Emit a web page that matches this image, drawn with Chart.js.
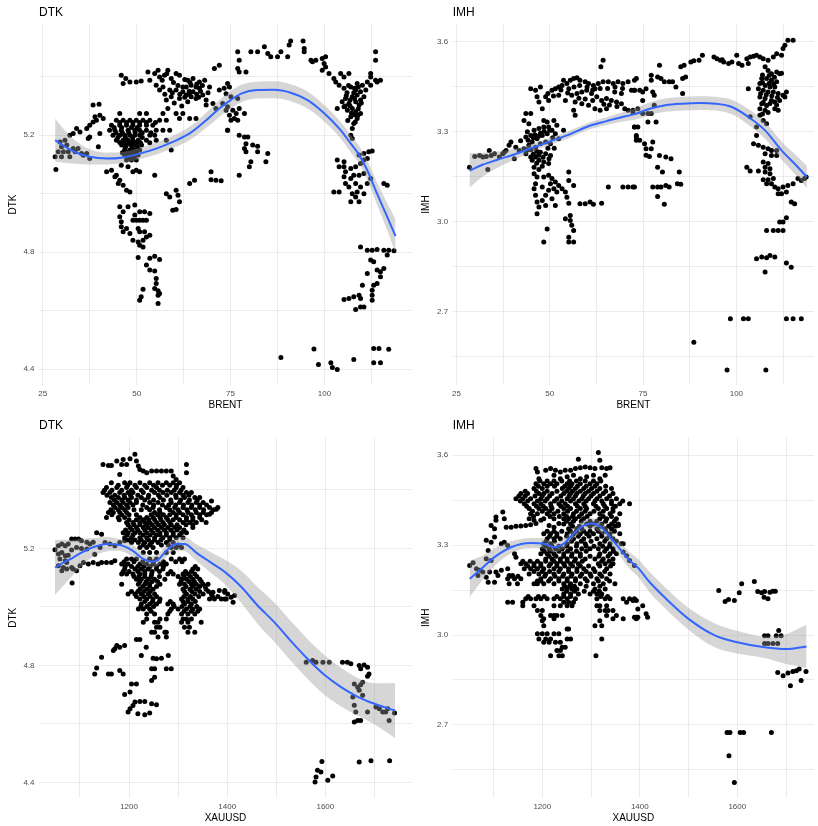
<!DOCTYPE html>
<html>
<head>
<meta charset="utf-8">
<script src="https://cdn.jsdelivr.net/npm/chart.js@4.4.1/dist/chart.umd.min.js"></script>
<style>
html, body { margin: 0; padding: 0; background: #ffffff; }
#wrap { position: relative; width: 818px; height: 826px; overflow: hidden; }
canvas { position: absolute; }
</style>
</head>
<body>
<div id="wrap">
<canvas id="p1" width="416" height="413" style="left:0px;top:0px"></canvas>
<canvas id="p2" width="402" height="413" style="left:416px;top:0px"></canvas>
<canvas id="p3" width="416" height="413" style="left:0px;top:413px"></canvas>
<canvas id="p4" width="402" height="413" style="left:416px;top:413px"></canvas>
</div>
<script>
// ---- tick values and labels ----
const brentMajor = [25, 50, 75, 100];
const brentLabels = ['25', '50', '75', '100'];
const brentMinor = [37.5, 62.5, 87.5, 112.5];
const xauMajor = [1200, 1400, 1600];
const xauLabels = ['1200', '1400', '1600'];
const xauMinor = [1100, 1300, 1500, 1700];
const dtkMajor = [4.4, 4.8, 5.2];
const dtkLabels = ['4.4', '4.8', '5.2'];
const dtkMinor = [4.6, 5.0, 5.4];
const imhMajor = [2.7, 3.0, 3.3, 3.6];
const imhLabels = ['2.7', '3.0', '3.3', '3.6'];
const imhMinor = [2.55, 2.85, 3.15, 3.45];

// ---- observations: DTK against BRENT ----
const dtkBrent = [
[28.3,5.126],[28.5,5.083],[29.1,5.143],[30.0,5.160],[30.5,5.143],[31.4,5.166],[31.8,5.143],[32.2,5.200],[33.1,5.206],[33.6,5.143],[34.0,5.223],[34.4,5.154],[34.9,5.211],[35.3,5.137],[35.8,5.131],[36.7,5.137],[37.5,5.120],[30.0,5.126],[32.2,5.126],[33.1,5.154],[29.6,5.177],[30.9,5.183],[37.5,5.194],
[38.4,5.303],[40.0,5.306],[38.9,5.263],[40.2,5.268],[41.1,5.257],[37.5,5.234],[38.4,5.245],[39.3,5.251],[36.7,5.223],[40.2,5.206],[39.8,5.160],[37.1,5.189],
[44.6,5.251],[46.4,5.251],[48.2,5.251],[49.9,5.251],[51.7,5.251],[53.5,5.251],[56.1,5.251],[57.9,5.251],
[43.3,5.234],[45.5,5.234],[47.3,5.234],[49.0,5.234],[50.8,5.234],[52.6,5.234],[54.3,5.234],
[42.8,5.217],[44.2,5.217],[45.9,5.217],[47.7,5.217],[49.5,5.217],[50.8,5.217],[52.6,5.217],[55.2,5.217],[57.0,5.217],[58.8,5.217],
[43.7,5.200],[45.5,5.200],[46.8,5.200],[48.2,5.200],[49.5,5.200],[50.8,5.200],[53.5,5.200],[54.8,5.200],
[44.6,5.183],[46.4,5.183],[47.7,5.183],[49.0,5.183],[50.4,5.183],[52.6,5.183],[55.2,5.183],[57.9,5.183],
[46.0,5.166],[47.3,5.166],[48.6,5.166],[49.9,5.166],[51.3,5.166],
[46.8,5.149],[48.2,5.149],[49.5,5.149],[50.8,5.149],[59.2,5.149],
[46.8,5.132],[47.7,5.132],[49.0,5.132],[50.4,5.132],
[47.3,5.115],[48.6,5.115],[49.9,5.115],
[45.5,5.274],[50.8,5.274],[52.6,5.274],[57.0,5.274],[60.5,5.274],[62.3,5.274],
[61.4,5.257],[64.1,5.257],[65.8,5.257],
[44.0,5.226],[46.0,5.226],[48.6,5.226],[50.2,5.226],[45.0,5.192],[47.0,5.192],[48.9,5.192],[51.5,5.192],[45.5,5.175],[48.0,5.175],[50.0,5.175],[47.0,5.158],[48.8,5.158],[50.2,5.158],[47.5,5.141],[49.0,5.141],
[45.5,5.243],[47.3,5.243],[49.0,5.243],[50.8,5.243],[52.6,5.243],[55.0,5.243],[44.5,5.208],[46.2,5.208],[47.9,5.208],[49.6,5.208],[51.5,5.208],[53.8,5.208],[46.7,5.174],[48.2,5.174],[49.3,5.174],[51.0,5.174],[53.5,5.174],[46.2,5.140],[48.4,5.140],[50.0,5.140],[48.0,5.124],[49.3,5.124],
[45.9,5.405],[47.1,5.394],[46.4,5.377],[48.2,5.382],[49.9,5.382],[51.2,5.385],[53.0,5.416],[53.5,5.388],[54.8,5.411],[55.7,5.422],[56.1,5.399],[57.4,5.405],[58.3,5.422],[59.2,5.394],[60.5,5.411],[61.4,5.405],[62.3,5.365],[63.6,5.388],[65.0,5.394],[66.7,5.382],[68.1,5.388],[69.4,5.365],[70.7,5.428],[72.0,5.439],[72.0,5.354],[73.3,5.360],
[55.2,5.371],[57.0,5.365],[58.8,5.354],[60.5,5.354],[62.3,5.348],[63.2,5.337],[64.5,5.331],[65.8,5.325],[67.6,5.337],[68.5,5.320],[57.9,5.320],[59.2,5.331],[61.4,5.325],[63.6,5.314],[65.0,5.348],[66.7,5.360],[58.3,5.291],[63.2,5.365],[64.5,5.371],[56.1,5.354],[65.8,5.365],[68.5,5.303],[70.3,5.308],[71.1,5.291],[72.9,5.308],[73.8,5.285],[74.2,5.217],[62.8,5.330],[64.0,5.350],[66.0,5.340],[67.0,5.350],
[56.8,5.388],[58.0,5.410],[59.8,5.380],[61.0,5.370],[62.8,5.390],[64.2,5.380],[66.0,5.375],[67.5,5.370],[57.5,5.340],[59.5,5.345],[61.5,5.340],[64.0,5.340],[66.5,5.330],[60.0,5.310],[62.0,5.300],[69.0,5.345],
[42.0,5.075],[43.3,5.080],[44.6,5.063],[45.5,5.046],[46.4,5.029],[47.3,5.012],[48.2,5.006],[49.0,5.075],[49.9,5.080],[50.8,5.075],[47.7,5.092],[45.9,5.097],[44.2,5.058],[45.1,5.035],[54.8,5.063],
[45.5,4.955],[46.4,4.938],[47.7,4.955],[49.5,4.961],[50.8,4.938],[52.1,4.938],[53.5,4.932],[45.5,4.921],[45.9,4.904],[45.9,4.887],[46.4,4.870],[48.2,4.864],[49.0,4.841],[50.4,4.835],[51.7,4.841],[52.6,4.852],[53.5,4.858],[52.1,4.870],[50.8,4.870],[49.9,4.909],[50.8,4.909],[51.7,4.909],[52.6,4.909],[49.0,4.909],[49.5,4.927],[50.8,4.824],[51.7,4.818],[47.3,4.881],[50.4,4.881],
[50.4,4.782],[53.5,4.779],[54.8,4.786],[56.1,4.775],[52.6,4.756],[53.5,4.739],[54.8,4.736],[55.2,4.710],[55.2,4.693],[54.8,4.676],[55.7,4.668],[56.1,4.659],[51.2,4.648],[50.8,4.636],[55.7,4.653],[55.7,4.625],[51.7,4.673],
[57.9,5.000],[58.8,4.989],[60.5,5.012],[61.0,4.995],[61.4,4.972],[60.5,4.946],[59.6,4.943],[64.1,5.035],[65.4,5.046],[69.8,5.075],[69.8,5.048],[71.1,5.046],[72.5,5.044],
[74.2,5.377],[74.7,5.365],[73.8,5.342],[75.1,5.331],[76.9,5.325],[74.2,5.297],[75.6,5.285],[76.5,5.274],[76.0,5.257],[76.9,5.251],[75.1,5.251],[77.3,5.291],[78.7,5.274],[74.2,5.217],[74.7,5.268],
[76.9,5.485],[77.3,5.456],[76.9,5.428],[77.3,5.416],[79.1,5.416],[80.4,5.485],[82.2,5.485],[84.0,5.502],[84.9,5.479],[85.7,5.468],[87.5,5.468],[88.4,5.485],[90.2,5.468],[90.6,5.508],[91.0,5.522],[94.3,5.522],[94.6,5.496],[94.6,5.485],[96.4,5.456],[96.8,5.451],[97.7,5.456],[99.4,5.462],[100.3,5.468],[99.9,5.445],[100.3,5.433],[99.4,5.422],[101.2,5.411],[102.5,5.394],[103.0,5.382],[104.3,5.411],[105.2,5.399],[106.5,5.411],[103.9,5.371],
[105.2,5.360],[107.0,5.365],[108.3,5.354],[109.6,5.348],[110.5,5.331],[108.7,5.337],[107.4,5.331],[105.6,5.325],[104.7,5.314],[106.5,5.308],[108.3,5.314],[109.2,5.303],[107.4,5.291],[106.1,5.285],[108.3,5.280],[109.6,5.274],[107.0,5.263],[108.7,5.257],[107.8,5.240],[107.4,5.223],[103.4,5.291],[105.2,5.297],[109.6,5.320],[111.0,5.354],[112.3,5.371],[113.6,5.388],[112.3,5.411],[112.3,5.399],[113.6,5.485],[113.6,5.456],[114.0,5.382],[114.9,5.388],[111.4,5.382],[110.1,5.371],[108.7,5.377],[106.0,5.345],[107.8,5.345],[109.0,5.290],[106.8,5.300],[108.0,5.270],[105.8,5.335],
[106.4,5.370],[108.0,5.360],[109.0,5.365],[106.8,5.320],[108.0,5.325],[109.8,5.310],[105.5,5.300],[107.2,5.275],[108.9,5.268],[106.2,5.250],[108.2,5.245],
[107.0,5.200],[107.4,5.189],[103.4,5.115],[105.2,5.109],[103.9,5.092],[105.6,5.075],[107.0,5.086],[108.3,5.092],[109.2,5.132],[110.5,5.137],[111.8,5.143],[112.7,5.146],[110.5,5.115],[111.4,5.120],[109.6,5.103],[107.8,5.063],[109.2,5.063],[110.5,5.069],[107.0,5.052],[108.3,5.035],[109.6,5.023],[108.7,5.006],[107.4,5.000],[110.5,5.000],[108.3,4.989],[107.0,4.972],[109.2,4.972],[102.5,5.006],[103.9,5.006],[105.2,5.058],[106.5,5.023],[111.4,5.035],[112.3,5.052],[115.8,5.035],[116.7,5.029],[105.2,5.092],[105.6,5.035],
[109.6,4.818],[111.4,4.807],[112.7,4.807],[114.0,4.809],[115.8,4.807],[117.1,4.807],[118.5,4.805],[116.7,4.790],[112.3,4.773],[113.1,4.767],[114.0,4.739],[114.9,4.733],[115.8,4.744],[111.4,4.727],[114.9,4.716],[113.1,4.687],[114.0,4.693],[110.1,4.687],[112.7,4.670],[112.7,4.653],[112.7,4.636],[105.2,4.638],[106.5,4.642],[107.8,4.648],[109.2,4.653],[109.6,4.642],[108.3,4.604],[109.6,4.613],[110.5,4.613],
[88.4,4.440],[97.2,4.469],[98.4,4.416],[101.7,4.422],[102.1,4.406],[103.4,4.399],[107.8,4.433],[113.1,4.471],[114.5,4.471],[117.1,4.468],[113.1,4.422],[114.9,4.422],
[77.3,5.200],[78.7,5.194],[79.6,5.194],[79.1,5.171],[80.9,5.166],[82.2,5.162],[82.2,5.143],[78.7,5.154],[79.1,5.143],[84.9,5.137],[84.4,5.109],[80.4,5.109],[80.0,5.092],[77.3,5.063]
];

// ---- observations: IMH against BRENT ----
const imhBrent = [
[28.5,3.182],[29.9,3.218],[31.2,3.221],[32.1,3.216],[33.0,3.218],[33.8,3.238],[34.3,3.221],[33.4,3.174],[35.2,3.227],[36.5,3.216],[37.4,3.227],[37.8,3.232],[39.1,3.255],[39.6,3.266],[38.3,3.238],[40.5,3.210],[41.8,3.238],[42.2,3.270],[43.1,3.244],[40.9,3.249],
[43.6,3.283],[44.9,3.288],[45.8,3.305],[47.1,3.311],[48.4,3.316],[49.7,3.316],[50.6,3.305],[51.5,3.294],[49.3,3.294],[48.0,3.288],[46.6,3.277],[45.3,3.266],[44.4,3.255],[46.2,3.249],[47.5,3.260],[48.9,3.266],[50.2,3.260],[43.6,3.227],[44.9,3.216],[46.2,3.216],[47.1,3.205],[48.4,3.199],[49.7,3.194],[45.3,3.205],[47.5,3.232],[48.9,3.227],[50.2,3.221],[45.8,3.182],[47.1,3.174],[48.4,3.338],[49.3,3.333],[44.4,3.327],[51.1,3.338],[51.9,3.322],[52.4,3.277],[53.7,3.305],[43.6,3.361],[43.1,3.338],[44.9,3.361],[46.0,3.290],[47.5,3.295],[45.0,3.240],[46.5,3.235],[49.5,3.245],[44.0,3.300],
[44.2,3.272],[45.6,3.280],[47.0,3.285],[48.5,3.302],[50.0,3.305],[44.0,3.240],[45.6,3.225],[47.0,3.222],[48.2,3.215],[49.8,3.210],[46.5,3.195],[48.0,3.185],[50.8,3.280],[51.2,3.245],
[44.9,3.444],[46.2,3.439],[46.6,3.417],[47.1,3.400],[48.0,3.377],[47.5,3.450],[48.9,3.417],[49.7,3.405],[50.6,3.439],[51.5,3.444],[52.4,3.450],[53.3,3.455],[53.7,3.472],[54.6,3.461],[55.5,3.472],[56.4,3.478],[57.3,3.481],[58.1,3.472],[59.5,3.467],[60.4,3.461],[61.7,3.455],[63.0,3.461],[64.3,3.467],[65.7,3.467],[67.0,3.461],[68.3,3.467],[69.6,3.461],[71.0,3.467],[71.9,3.439],[72.7,3.439],[72.7,3.472],[52.4,3.422],[54.2,3.405],[55.9,3.422],[57.3,3.428],[58.6,3.433],[59.9,3.439],[61.2,3.428],[62.6,3.417],[63.9,3.405],[65.2,3.411],[66.5,3.405],[67.9,3.400],[69.2,3.394],[70.1,3.377],[71.0,3.372],[72.3,3.366],[56.8,3.400],[58.6,3.394],[60.4,3.389],[62.1,3.377],[63.5,3.372],[65.2,3.377],[56.8,3.355],[56.4,3.372],[55.1,3.444],[62.1,3.444],[67.4,3.433],[69.2,3.428],[64.3,3.539],[63.7,3.517],
[49.5,3.428],[51.0,3.420],[53.0,3.440],[54.8,3.430],[56.5,3.450],[58.0,3.455],[60.0,3.450],[61.5,3.440],[63.5,3.445],[65.5,3.445],[67.5,3.450],[69.5,3.445],[57.8,3.412],[59.5,3.410],[61.5,3.405],[64.5,3.392],[66.0,3.390],[68.0,3.385],
[45.8,3.160],[46.6,3.149],[46.2,3.127],[45.8,3.110],[46.2,3.088],[46.6,3.066],[47.1,3.049],[46.6,3.027],[48.0,3.116],[48.4,3.149],[49.7,3.155],[50.6,3.144],[51.5,3.133],[52.4,3.121],[50.2,3.127],[49.7,3.105],[51.1,3.110],[51.9,3.099],[53.3,3.110],[54.2,3.099],[55.1,3.138],[55.1,3.166],[56.4,3.121],[48.9,3.088],[50.6,3.077],[51.5,3.054],[48.0,3.071],[48.9,3.054],[54.6,3.082],[55.1,3.062],[58.1,3.060],[59.5,3.060],[60.8,3.066],[61.7,3.058],[63.9,3.062],[54.2,3.010],[55.5,3.004],[55.9,2.988],[56.4,2.971],[55.1,2.948],[56.4,2.932],[55.1,2.932],[49.3,2.976],[48.4,2.932],[55.5,3.021],
[65.7,3.116],[69.6,3.116],[71.0,3.116],[72.3,3.116],[72.7,3.316],[73.2,3.288],[73.2,3.272],
[72.7,3.439],[74.1,3.439],[74.9,3.433],[75.8,3.444],[77.2,3.489],[77.2,3.472],[77.6,3.433],[78.0,3.422],[78.9,3.483],[79.8,3.478],[80.7,3.467],[82.0,3.467],[82.9,3.467],[83.8,3.450],[85.6,3.428],[85.6,3.478],[86.4,3.483],[85.1,3.517],[86.0,3.522],[87.8,3.533],[88.6,3.537],[90.0,3.539],[90.9,3.556],[79.4,3.522],[73.2,3.478],[74.9,3.405],[72.3,3.372],[73.6,3.377],[74.9,3.361],[76.3,3.361],[77.2,3.361],[78.0,3.389],[76.3,3.333],[78.5,3.333],[72.7,3.316],[73.6,3.316],[73.2,3.283],[74.1,3.272],[75.4,3.260],[75.8,3.244],[77.2,3.244],[75.8,3.222],[76.7,3.218],[77.6,3.266],[79.4,3.221],[81.1,3.216],[82.5,3.210],[78.9,3.182],[80.2,3.166],[84.7,3.166],[84.2,3.127],[85.1,3.125],[77.6,3.116],[78.9,3.116],[79.8,3.116],[81.1,3.121],[82.0,3.116],[78.9,3.084],[80.7,3.058],[72.7,3.116],
[94.0,3.550],[94.8,3.544],[95.7,3.539],[96.6,3.533],[97.9,3.528],[98.8,3.533],[100.1,3.556],[100.6,3.528],[101.5,3.522],[102.8,3.544],[103.7,3.550],[104.6,3.552],[105.4,3.556],[106.3,3.550],[107.2,3.544],[108.5,3.539],[109.9,3.550],[110.8,3.561],[112.1,3.556],[112.5,3.578],[113.0,3.589],[113.8,3.606],[115.2,3.606],[103.2,3.528],[96.2,3.541],
[107.7,3.517],[108.5,3.505],[109.4,3.494],[110.8,3.500],[111.6,3.494],[106.8,3.478],[108.1,3.478],[109.4,3.472],[110.8,3.467],[106.3,3.461],[107.7,3.455],[109.0,3.450],[110.3,3.450],[105.9,3.444],[107.2,3.439],[108.5,3.433],[109.9,3.433],[111.2,3.428],[112.5,3.422],[103.2,3.444],[106.3,3.416],[107.7,3.411],[109.4,3.405],[111.6,3.405],[113.0,3.416],[113.4,3.433],[106.8,3.394],[108.1,3.388],[106.3,3.377],[107.7,3.372],[110.3,3.377],[111.2,3.372],[106.3,3.355],[107.2,3.338],[108.1,3.327],[112.1,3.496],[110.3,3.400],[103.7,3.350],
[107.0,3.490],[108.8,3.488],[110.2,3.482],[107.0,3.465],[108.8,3.462],[110.0,3.460],[106.5,3.428],[108.0,3.424],[109.5,3.420],[111.0,3.415],[107.2,3.398],[109.0,3.395],[110.8,3.390],[107.0,3.360],[108.5,3.365],
[105.4,3.316],[105.4,3.288],[104.6,3.260],[105.9,3.255],[107.2,3.249],[108.5,3.244],[109.4,3.238],[110.8,3.238],[107.7,3.227],[109.4,3.221],[110.8,3.221],[107.2,3.199],[108.5,3.194],[107.7,3.182],[109.0,3.177],[102.8,3.182],[103.7,3.169],[105.9,3.169],[107.7,3.166],[109.0,3.160],[107.2,3.140],[108.5,3.140],[109.9,3.144],[108.1,3.127],[109.4,3.127],[110.3,3.116],[111.2,3.110],[112.5,3.116],[113.8,3.121],[115.2,3.127],[116.5,3.144],[117.4,3.138],[118.3,3.144],[118.7,3.149],[111.2,3.093],[112.1,3.093],[113.4,3.099],[114.7,3.066],[115.6,3.060],
[113.4,3.013],[111.6,2.999],[112.5,2.999],[108.1,2.971],[109.9,2.971],[111.2,2.971],[112.5,2.971],[105.4,2.876],[106.8,2.882],[108.1,2.880],[109.0,2.887],[110.3,2.882],[107.7,2.832],[113.4,2.862],[114.7,2.848],
[98.4,2.676],[101.9,2.676],[103.2,2.676],[113.4,2.676],[115.2,2.676],[117.4,2.676],[88.6,2.598],[97.5,2.505],[107.9,2.505]
];

// ---- observations: DTK against XAUUSD ----
const dtkXau = [
[1049,5.196],[1056,5.209],[1063,5.215],[1070,5.209],[1076,5.215],[1083,5.232],[1090,5.232],[1097,5.232],[1103,5.226],[1114,5.221],[1120,5.215],[1127,5.221],[1056,5.181],[1063,5.186],[1070,5.175],[1076,5.177],[1059,5.164],[1070,5.158],[1056,5.141],[1066,5.135],[1073,5.130],[1083,5.135],[1086,5.130],[1093,5.124],[1073,5.152],[1083,5.195],[1093,5.203],[1103,5.200],[1114,5.198],[1084,5.082],[1063,5.124],[1130,5.180],[1107,5.152],[1117,5.147],[1127,5.152],[1137,5.147],[1144,5.152],[1154,5.152],[1164,5.152],[1171,5.158],[1134,5.254],[1144,5.249],[1141,5.203],[1151,5.220],[1161,5.215],[1171,5.209],[1181,5.220],[1191,5.226],[1100,5.141],
[1147,5.487],[1158,5.484],[1164,5.484],[1175,5.499],[1185,5.487],[1188,5.504],[1195,5.487],[1202,5.507],[1212,5.522],[1215,5.499],[1219,5.482],[1222,5.470],[1229,5.465],[1236,5.459],[1246,5.465],[1256,5.465],[1266,5.465],[1276,5.465],[1286,5.465],[1317,5.487],[1317,5.459],[1181,5.453],[1290,5.448],[1296,5.436],
[1164,5.425],[1191,5.425],[1202,5.425],[1222,5.425],[1242,5.425],[1259,5.425],[1276,5.425],[1290,5.425],[1303,5.425],
[1178,5.416],[1197,5.416],[1212,5.416],[1232,5.416],[1250,5.416],[1268,5.416],[1283,5.416],[1297,5.416],
[1154,5.408],[1175,5.408],[1195,5.408],[1215,5.408],[1236,5.408],[1256,5.408],[1296,5.408],[1310,5.408],
[1150,5.399],[1165,5.399],[1185,5.399],[1205,5.399],[1225,5.399],[1246,5.399],[1262,5.399],[1278,5.399],[1292,5.399],[1306,5.399],
[1147,5.391],[1161,5.391],[1181,5.391],[1198,5.391],[1208,5.391],[1229,5.391],[1252,5.391],[1269,5.391],[1286,5.391],[1303,5.391],[1317,5.391],[1327,5.391],
[1155,5.382],[1171,5.382],[1190,5.382],[1203,5.382],[1218,5.382],[1240,5.382],[1260,5.382],[1277,5.382],[1295,5.382],[1310,5.382],[1322,5.382],
[1164,5.374],[1178,5.374],[1191,5.374],[1205,5.374],[1225,5.374],[1239,5.374],[1263,5.374],[1296,5.374],[1313,5.374],[1334,5.374],[1344,5.374],
[1170,5.366],[1185,5.366],[1198,5.366],[1215,5.366],[1232,5.366],[1250,5.366],[1270,5.366],[1285,5.366],[1305,5.366],[1323,5.366],[1339,5.366],
[1161,5.357],[1175,5.357],[1188,5.357],[1202,5.357],[1215,5.357],[1242,5.357],[1259,5.357],[1286,5.357],[1303,5.357],[1320,5.357],[1337,5.357],[1351,5.357],
[1168,5.349],[1181,5.349],[1195,5.349],[1208,5.349],[1228,5.349],[1250,5.349],[1268,5.349],[1281,5.349],[1295,5.349],[1311,5.349],[1328,5.349],[1344,5.349],[1358,5.349],
[1171,5.340],[1185,5.340],[1198,5.340],[1236,5.340],[1249,5.340],[1276,5.340],[1293,5.340],[1310,5.340],[1327,5.340],[1344,5.340],[1364,5.340],[1381,5.340],
[1163,5.332],[1178,5.332],[1191,5.332],[1210,5.332],[1225,5.332],[1242,5.332],[1262,5.332],[1283,5.332],[1300,5.332],[1318,5.332],[1335,5.332],[1352,5.332],[1372,5.332],
[1158,5.323],[1168,5.323],[1181,5.323],[1195,5.323],[1252,5.323],[1263,5.323],[1290,5.323],[1303,5.323],[1320,5.323],[1337,5.323],[1351,5.323],[1368,5.323],
[1165,5.315],[1185,5.315],[1200,5.315],[1215,5.315],[1245,5.315],[1258,5.315],[1270,5.315],[1283,5.315],[1296,5.315],[1310,5.315],[1327,5.315],[1344,5.315],[1358,5.315],
[1154,5.306],[1178,5.306],[1191,5.306],[1222,5.306],[1236,5.306],[1249,5.306],[1263,5.306],[1276,5.306],[1296,5.306],[1317,5.306],[1330,5.306],[1344,5.306],
[1180,5.298],[1200,5.298],[1215,5.298],[1229,5.298],[1240,5.298],[1252,5.298],[1265,5.298],[1279,5.298],[1290,5.298],[1303,5.298],[1317,5.298],[1330,5.298],[1348,5.298],
[1195,5.289],[1208,5.289],[1222,5.289],[1232,5.289],[1242,5.289],[1256,5.289],[1269,5.289],[1283,5.289],[1310,5.289],[1324,5.289],[1337,5.289],[1357,5.289],
[1198,5.281],[1210,5.281],[1222,5.281],[1235,5.281],[1247,5.281],[1260,5.281],[1272,5.281],[1286,5.281],[1298,5.281],[1316,5.281],[1330,5.281],
[1202,5.272],[1215,5.272],[1229,5.272],[1239,5.272],[1252,5.272],[1266,5.272],[1279,5.272],[1293,5.272],[1303,5.272],[1330,5.272],
[1193,5.263],[1206,5.263],[1218,5.263],[1232,5.263],[1245,5.263],[1258,5.263],[1272,5.263],[1285,5.263],[1298,5.263],[1312,5.263],
[1188,5.254],[1198,5.254],[1212,5.254],[1222,5.254],[1236,5.254],[1249,5.254],[1263,5.254],[1276,5.254],[1290,5.254],[1307,5.254],[1317,5.254],
[1196,5.246],[1208,5.246],[1229,5.246],[1243,5.246],[1256,5.246],[1263,5.246],[1276,5.246],[1290,5.246],[1303,5.246],
[1191,5.237],[1205,5.237],[1222,5.237],[1236,5.237],[1252,5.237],[1269,5.237],[1283,5.237],[1296,5.237],[1310,5.237],
[1198,5.229],[1212,5.229],[1225,5.229],[1240,5.229],[1252,5.229],[1265,5.229],[1283,5.229],
[1205,5.220],[1219,5.220],[1232,5.220],[1246,5.220],[1259,5.220],[1276,5.220],[1290,5.220],
[1229,5.212],[1242,5.212],[1266,5.212],[1280,5.212],[1300,5.212],
[1222,5.203],[1236,5.203],[1249,5.203],[1286,5.203],[1296,5.203],[1307,5.203],
[1229,5.186],[1242,5.186],[1256,5.186],[1276,5.186],[1290,5.186],
[1368,5.362],[1378,5.334],[1364,5.317],
[1195,5.164],[1205,5.164],[1215,5.164],[1242,5.164],[1256,5.164],[1286,5.164],[1303,5.164],[1313,5.164],
[1190,5.155],[1210,5.155],[1228,5.155],[1250,5.155],[1270,5.155],[1295,5.155],[1308,5.155],
[1185,5.147],[1198,5.147],[1222,5.147],[1236,5.147],[1249,5.147],[1263,5.147],[1276,5.147],
[1192,5.138],[1205,5.138],[1218,5.138],[1230,5.138],[1243,5.138],[1256,5.138],[1270,5.138],[1335,5.138],
[1191,5.130],[1212,5.130],[1225,5.130],[1239,5.130],[1256,5.130],[1269,5.130],[1330,5.130],[1340,5.130],
[1188,5.121],[1200,5.121],[1218,5.121],[1232,5.121],[1247,5.121],[1262,5.121],[1285,5.121],[1315,5.121],[1327,5.121],
[1185,5.113],[1195,5.113],[1208,5.113],[1222,5.113],[1232,5.113],[1246,5.113],[1279,5.113],[1290,5.113],[1310,5.113],[1320,5.113],[1334,5.113],
[1210,5.104],[1220,5.104],[1232,5.104],[1245,5.104],[1262,5.104],[1300,5.104],[1312,5.104],[1325,5.104],[1338,5.104],
[1215,5.095],[1225,5.095],[1239,5.095],[1252,5.095],[1273,5.095],[1307,5.095],[1317,5.095],[1330,5.095],[1344,5.095],
[1222,5.087],[1235,5.087],[1247,5.087],[1258,5.087],[1306,5.087],[1322,5.087],[1333,5.087],[1347,5.087],
[1185,5.078],[1219,5.078],[1232,5.078],[1242,5.078],[1263,5.078],[1303,5.078],[1313,5.078],[1327,5.078],[1337,5.078],[1351,5.078],[1361,5.078],
[1228,5.070],[1242,5.070],[1256,5.070],[1316,5.070],[1330,5.070],[1344,5.070],[1355,5.070],
[1222,5.061],[1236,5.061],[1249,5.061],[1310,5.061],[1324,5.061],[1337,5.061],[1357,5.061],
[1205,5.053],[1218,5.053],[1230,5.053],[1243,5.053],[1313,5.053],[1328,5.053],[1344,5.053],[1362,5.053],
[1198,5.044],[1212,5.044],[1225,5.044],[1239,5.044],[1252,5.044],[1317,5.044],[1334,5.044],[1351,5.044],[1368,5.044],
[1215,5.036],[1230,5.036],[1243,5.036],[1256,5.036],[1312,5.036],[1325,5.036],[1342,5.036],[1370,5.036],[1381,5.036],
[1222,5.027],[1236,5.027],[1249,5.027],[1263,5.027],[1307,5.027],[1320,5.027],[1330,5.027],[1364,5.027],[1374,5.027],[1388,5.027],[1395,5.027],
[1232,5.019],[1248,5.019],[1262,5.019],[1284,5.019],[1310,5.019],[1320,5.019],[1335,5.019],
[1225,5.010],[1242,5.010],[1256,5.010],[1279,5.010],[1290,5.010],[1313,5.010],[1327,5.010],
[1224,5.002],[1236,5.002],[1250,5.002],[1292,5.002],[1308,5.002],[1324,5.002],[1338,5.002],
[1219,4.993],[1229,4.993],[1242,4.993],[1286,4.993],[1300,4.993],[1317,4.993],[1330,4.993],[1344,4.993],
[1245,4.985],[1283,4.985],[1312,4.985],[1327,4.985],[1340,4.985],
[1236,4.976],[1252,4.976],[1279,4.976],[1307,4.976],[1320,4.976],[1334,4.976],
[1236,4.959],[1263,4.959],[1276,4.959],[1310,4.959],[1317,4.959],[1327,4.959],
[1229,4.948],[1252,4.948],[1259,4.948],[1307,4.948],[1320,4.948],[1347,4.948],
[1256,4.931],[1263,4.931],[1313,4.931],[1323,4.931],
[1246,4.914],[1252,4.914],[1273,4.914],[1276,4.914],[1320,4.914],[1334,4.914],
[1259,4.897],[1276,4.897],[1215,4.889],[1222,4.889],
[1235,4.862],[1175,4.868],[1171,4.857],[1168,4.851],[1181,4.862],[1191,4.868],[1144,4.828],[1225,4.834],[1249,4.825],[1256,4.823],[1266,4.825],[1280,4.834],[1134,4.791],[1130,4.771],[1158,4.771],[1164,4.771],[1181,4.783],[1188,4.771],[1246,4.789],[1252,4.789],[1252,4.760],[1246,4.749],[1276,4.789],[1286,4.789],[1205,4.737],[1215,4.737],[1191,4.701],[1202,4.709],[1212,4.675],[1222,4.677],[1232,4.677],[1246,4.669],[1256,4.666],[1198,4.641],[1202,4.652],[1218,4.635],[1232,4.632],[1242,4.638],[1208,4.663],
[1371,5.050],[1384,5.056],[1395,5.050],[1395,5.056],[1401,5.044],[1408,5.033],[1415,5.039],[1412,5.016],[1398,5.027],
[1561,4.811],[1574,4.817],[1581,4.811],[1595,4.811],[1608,4.811],[1635,4.811],[1645,4.811],[1652,4.806],[1669,4.800],[1679,4.802],[1686,4.794],[1672,4.789],[1689,4.771],[1686,4.763],[1659,4.737],[1666,4.726],[1672,4.734],[1676,4.743],[1669,4.715],[1676,4.698],[1656,4.692],[1659,4.664],[1662,4.641],[1686,4.641],[1703,4.658],[1710,4.652],[1717,4.641],[1727,4.652],[1723,4.641],[1730,4.612],[1741,4.638],[1659,4.607],[1666,4.612],[1672,4.612],
[1593,4.472],[1584,4.442],[1591,4.436],[1581,4.419],[1579,4.402],[1605,4.408],[1615,4.422],[1669,4.470],[1693,4.474],[1731,4.474]
];

// ---- observations: IMH against XAUUSD ----
const imhXau = [
[1051,3.232],[1058,3.241],[1065,3.221],[1072,3.216],[1078,3.210],[1068,3.199],[1085,3.193],[1089,3.176],[1102,3.176],[1092,3.210],[1105,3.210],[1116,3.216],[1085,3.255],[1095,3.249],[1089,3.282],[1095,3.310],[1085,3.316],[1102,3.327],[1102,3.355],[1095,3.366],[1105,3.383],[1105,3.394],[1119,3.411],[1122,3.388],[1122,3.310],[1129,3.299],[1116,3.305],[1129,3.221],[1139,3.199],[1146,3.260],[1143,3.271],[1132,3.199],[1109,3.199],[1132,3.171],
[1126,3.360],[1136,3.360],[1146,3.363],[1156,3.364],[1166,3.366],[1176,3.368],[1187,3.372],[1197,3.383],[1203,3.388],[1214,3.366],[1224,3.360],[1234,3.372],[1183,3.383],
[1315,3.609],[1318,3.583],[1274,3.587],[1187,3.556],[1190,3.544],[1193,3.522],[1207,3.550],[1217,3.556],[1227,3.550],[1237,3.544],[1247,3.550],[1258,3.550],[1268,3.556],[1278,3.558],[1288,3.561],[1298,3.558],[1308,3.556],[1322,3.558],[1332,3.556],[1339,3.558],[1224,3.533],[1237,3.522],[1251,3.528],[1264,3.533],[1278,3.522],[1291,3.528],[1305,3.533],[1318,3.522],[1329,3.533],
[1195,3.514],[1210,3.514],[1224,3.514],[1240,3.514],[1256,3.514],[1270,3.514],[1288,3.514],[1305,3.514],[1320,3.514],
[1187,3.505],[1203,3.505],[1217,3.505],[1230,3.505],[1251,3.505],[1261,3.505],[1278,3.505],[1298,3.505],[1312,3.505],
[1192,3.497],[1210,3.497],[1225,3.497],[1246,3.497],[1258,3.497],[1272,3.497],[1290,3.497],[1308,3.497],[1330,3.497],
[1183,3.489],[1200,3.489],[1241,3.489],[1254,3.489],[1268,3.489],[1285,3.489],[1301,3.489],[1318,3.489],[1342,3.489],
[1165,3.480],[1188,3.480],[1210,3.480],[1230,3.480],[1250,3.480],[1262,3.480],[1278,3.480],[1295,3.480],[1312,3.480],[1330,3.480],
[1156,3.472],[1170,3.472],[1193,3.472],[1203,3.472],[1220,3.472],[1244,3.472],[1258,3.472],[1271,3.472],[1288,3.472],[1305,3.472],[1325,3.472],[1345,3.472],
[1152,3.464],[1165,3.464],[1185,3.464],[1200,3.464],[1215,3.464],[1238,3.464],[1255,3.464],[1268,3.464],[1284,3.464],[1300,3.464],[1318,3.464],[1338,3.464],
[1146,3.455],[1160,3.455],[1176,3.455],[1197,3.455],[1210,3.455],[1230,3.455],[1251,3.455],[1264,3.455],[1281,3.455],[1295,3.455],[1312,3.455],[1332,3.455],[1352,3.455],
[1155,3.447],[1170,3.447],[1190,3.447],[1206,3.447],[1225,3.447],[1240,3.447],[1258,3.447],[1275,3.447],[1290,3.447],[1308,3.447],[1322,3.447],[1342,3.447],[1365,3.447],
[1163,3.438],[1183,3.438],[1197,3.438],[1217,3.438],[1234,3.438],[1247,3.438],[1268,3.438],[1285,3.438],[1305,3.438],[1325,3.438],[1342,3.438],[1359,3.438],[1379,3.438],
[1168,3.430],[1188,3.430],[1202,3.430],[1218,3.430],[1238,3.430],[1252,3.430],[1272,3.430],[1288,3.430],[1310,3.430],[1328,3.430],[1350,3.430],
[1173,3.422],[1193,3.422],[1207,3.422],[1220,3.422],[1244,3.422],[1258,3.422],[1278,3.422],[1291,3.422],[1315,3.422],[1332,3.422],[1345,3.422],
[1180,3.413],[1200,3.413],[1215,3.413],[1232,3.413],[1252,3.413],[1270,3.413],[1288,3.413],[1306,3.413],[1325,3.413],[1345,3.413],
[1176,3.405],[1190,3.405],[1210,3.405],[1224,3.405],[1244,3.405],[1264,3.405],[1281,3.405],[1298,3.405],[1318,3.405],[1339,3.405],[1359,3.405],
[1182,3.396],[1216,3.396],[1235,3.396],[1250,3.396],[1262,3.396],[1276,3.396],[1292,3.396],[1325,3.396],[1342,3.396],
[1173,3.388],[1224,3.388],[1244,3.388],[1254,3.388],[1268,3.388],[1285,3.388],[1318,3.388],[1332,3.388],[1352,3.388],
[1250,3.380],[1264,3.380],[1280,3.380],[1298,3.380],[1312,3.380],[1330,3.380],[1348,3.380],
[1244,3.371],[1258,3.371],[1291,3.371],[1305,3.371],[1322,3.371],[1342,3.371],[1356,3.371],
[1262,3.363],[1276,3.363],[1298,3.363],[1320,3.363],[1336,3.363],[1350,3.363],
[1254,3.355],[1271,3.355],[1281,3.355],[1312,3.355],[1329,3.355],[1342,3.355],
[1210,3.346],[1224,3.346],[1240,3.346],[1258,3.346],[1270,3.346],[1285,3.346],[1298,3.346],[1315,3.346],[1330,3.346],[1348,3.346],
[1203,3.338],[1217,3.338],[1230,3.338],[1251,3.338],[1264,3.338],[1278,3.338],[1291,3.338],[1305,3.338],[1322,3.338],[1339,3.338],[1359,3.338],
[1215,3.330],[1230,3.330],[1250,3.330],[1274,3.330],[1296,3.330],[1322,3.330],[1338,3.330],
[1210,3.321],[1224,3.321],[1237,3.321],[1264,3.321],[1285,3.321],[1312,3.321],[1332,3.321],[1345,3.321],
[1208,3.313],[1225,3.313],[1260,3.313],[1280,3.313],[1300,3.313],[1328,3.313],[1352,3.313],
[1203,3.305],[1217,3.305],[1251,3.305],[1271,3.305],[1288,3.305],[1318,3.305],[1339,3.305],[1366,3.305],
[1207,3.296],[1220,3.296],[1234,3.296],[1250,3.296],[1270,3.296],[1290,3.296],[1306,3.296],[1324,3.296],[1338,3.296],
[1200,3.288],[1214,3.288],[1227,3.288],[1241,3.288],[1258,3.288],[1281,3.288],[1298,3.288],[1315,3.288],[1332,3.288],[1345,3.288],
[1204,3.280],[1217,3.280],[1234,3.280],[1252,3.280],[1270,3.280],[1290,3.280],[1328,3.280],[1346,3.280],
[1197,3.271],[1210,3.271],[1224,3.271],[1244,3.271],[1261,3.271],[1278,3.271],[1318,3.271],[1339,3.271],[1352,3.271],
[1214,3.263],[1228,3.263],[1244,3.263],[1260,3.263],[1278,3.263],[1298,3.263],[1316,3.263],[1335,3.263],
[1207,3.254],[1220,3.254],[1237,3.254],[1251,3.254],[1268,3.254],[1288,3.254],[1308,3.254],[1325,3.254],[1345,3.254],
[1160,3.246],[1175,3.246],[1190,3.246],[1207,3.246],[1224,3.246],[1237,3.246],[1251,3.246],[1266,3.246],[1282,3.246],[1322,3.246],[1337,3.246],
[1156,3.238],[1166,3.238],[1183,3.238],[1197,3.238],[1217,3.238],[1230,3.238],[1244,3.238],[1258,3.238],[1274,3.238],[1315,3.238],[1329,3.238],[1345,3.238],
[1170,3.230],[1183,3.230],[1197,3.230],[1214,3.230],[1230,3.230],[1246,3.230],[1262,3.230],[1278,3.230],[1295,3.230],[1318,3.230],[1340,3.230],
[1163,3.221],[1176,3.221],[1190,3.221],[1203,3.221],[1224,3.221],[1237,3.221],[1254,3.221],[1271,3.221],[1285,3.221],[1305,3.221],[1332,3.221],
[1183,3.212],[1200,3.212],[1215,3.212],[1234,3.212],[1254,3.212],[1271,3.212],[1290,3.212],[1308,3.212],[1328,3.212],
[1173,3.204],[1193,3.204],[1207,3.204],[1224,3.204],[1244,3.204],[1261,3.204],[1281,3.204],[1298,3.204],[1318,3.204],[1339,3.204],
[1136,3.196],[1150,3.196],[1205,3.196],[1226,3.196],[1242,3.196],[1259,3.196],[1278,3.196],[1300,3.196],[1322,3.196],
[1129,3.188],[1143,3.188],[1156,3.188],[1197,3.188],[1217,3.188],[1234,3.188],[1251,3.188],[1268,3.188],[1288,3.188],[1312,3.188],[1332,3.188],
[1190,3.180],[1197,3.180],[1213,3.180],[1234,3.180],[1251,3.180],[1268,3.180],[1292,3.180],[1315,3.180],[1338,3.180],
[1149,3.171],[1183,3.171],[1190,3.171],[1203,3.171],[1224,3.171],[1244,3.171],[1258,3.171],[1278,3.171],[1305,3.171],[1325,3.171],[1349,3.171],
[1246,3.163],[1256,3.163],[1266,3.163],[1290,3.163],[1318,3.163],
[1241,3.154],[1251,3.154],[1261,3.154],[1271,3.154],[1308,3.154],[1329,3.154],
[1250,3.146],[1266,3.146],[1286,3.146],[1305,3.146],[1317,3.146],
[1244,3.137],[1258,3.137],[1274,3.137],[1298,3.137],[1312,3.137],[1322,3.137],
[1171,3.129],[1192,3.129],[1204,3.129],[1230,3.129],[1244,3.129],[1258,3.129],[1320,3.129],[1334,3.129],
[1166,3.121],[1176,3.121],[1187,3.121],[1197,3.121],[1210,3.121],[1224,3.121],[1237,3.121],[1251,3.121],[1268,3.121],[1312,3.121],[1329,3.121],[1339,3.121],[1366,3.121],[1379,3.121],[1389,3.121],
[1129,3.109],[1139,3.109],[1160,3.109],[1244,3.109],[1254,3.109],[1264,3.109],[1373,3.109],
[1160,3.098],[1183,3.098],[1224,3.098],[1237,3.098],[1251,3.098],[1261,3.098],[1312,3.098],[1318,3.098],[1332,3.098],
[1190,3.082],[1200,3.082],[1318,3.082],[1329,3.082],[1335,3.082],[1345,3.082],
[1197,3.065],[1217,3.065],[1224,3.065],[1230,3.065],[1241,3.065],[1332,3.065],[1352,3.065],
[1203,3.054],[1224,3.054],[1345,3.054],[1366,3.054],[1393,3.054],
[1200,3.048],[1318,3.048],[1203,3.031],[1308,3.031],[1322,3.031],[1251,3.020],[1254,3.020],
[1190,3.004],[1200,3.004],[1210,3.004],[1224,3.004],[1234,3.004],
[1193,2.987],[1207,2.987],[1217,2.987],[1251,2.987],[1258,2.987],[1322,2.987],
[1203,2.976],[1214,2.976],[1227,2.976],[1237,2.976],
[1241,2.959],[1247,2.959],[1230,2.948],[1237,2.948],
[1217,2.931],[1234,2.931],[1241,2.931],[1310,2.931],
[1362,3.305],[1366,3.277],[1373,3.265],[1379,3.249],[1389,3.232],[1356,3.366],[1386,3.115],[1393,3.059],
[1393,3.115],[1396,3.087],[1406,3.098],[1389,3.059],[1396,3.059],[1413,3.071],[1416,3.059],
[1562,3.149],[1575,3.112],[1582,3.119],[1594,3.115],[1604,3.141],[1609,3.171],[1635,3.179],[1642,3.145],[1650,3.141],[1655,3.126],[1663,3.121],[1667,3.143],[1673,3.146],[1678,3.146],[1656,3.145],
[1656,2.998],[1663,2.998],[1656,2.972],[1663,2.972],[1673,2.972],[1683,2.972],[1680,2.998],[1690,2.998],[1685,3.015],
[1683,2.875],[1694,2.864],[1704,2.873],[1714,2.878],[1721,2.881],[1727,2.887],[1741,2.878],[1709,2.831],[1731,2.848],
[1579,2.675],[1585,2.675],[1606,2.675],[1613,2.675],[1670,2.675],[1583,2.597],[1594,2.508]
];

// ---- smoothed trend with confidence band ----
const dtkBrentX = [28.3, 31, 34, 37.5, 42, 46.4, 50.8, 55.2, 59.6, 64.1, 68.5, 72, 75, 78, 82, 86.6, 91, 95.5, 100, 104.3, 107, 109, 111.4, 114, 116.7, 118.9];
const dtkBrentFit = [5.183, 5.16, 5.14, 5.126, 5.12, 5.124, 5.137, 5.154, 5.177, 5.206, 5.251, 5.291, 5.32, 5.343, 5.354, 5.355, 5.345, 5.32, 5.274, 5.217, 5.171, 5.137, 5.08, 5.0, 4.921, 4.855];
const dtkBrentHi = [5.257, 5.215, 5.178, 5.152, 5.14, 5.143, 5.156, 5.174, 5.198, 5.229, 5.277, 5.32, 5.35, 5.373, 5.383, 5.384, 5.374, 5.349, 5.302, 5.245, 5.2, 5.167, 5.113, 5.038, 4.967, 4.913];
const dtkBrentLo = [5.109, 5.105, 5.102, 5.1, 5.1, 5.105, 5.118, 5.134, 5.156, 5.183, 5.225, 5.262, 5.29, 5.313, 5.325, 5.326, 5.316, 5.291, 5.246, 5.189, 5.142, 5.107, 5.047, 4.962, 4.875, 4.797];

const imhBrentX = [28.5, 32, 36, 41, 46, 50, 55, 60, 65, 70, 73, 77, 81, 85.6, 90, 94.4, 98.8, 103.2, 107.7, 112.1, 116.5, 118.9];
const imhBrentFit = [3.171, 3.19, 3.207, 3.227, 3.25, 3.268, 3.29, 3.317, 3.335, 3.351, 3.36, 3.378, 3.389, 3.394, 3.396, 3.394, 3.383, 3.35, 3.305, 3.238, 3.182, 3.149];
const imhBrentHi = [3.229, 3.23, 3.234, 3.245, 3.263, 3.28, 3.302, 3.329, 3.348, 3.367, 3.379, 3.399, 3.411, 3.417, 3.419, 3.417, 3.407, 3.376, 3.333, 3.268, 3.216, 3.186];
const imhBrentLo = [3.113, 3.15, 3.18, 3.209, 3.237, 3.256, 3.278, 3.305, 3.322, 3.335, 3.341, 3.357, 3.367, 3.371, 3.373, 3.371, 3.359, 3.324, 3.277, 3.208, 3.148, 3.112];

const dtkXauX = [1049, 1070, 1086, 1103, 1120, 1137, 1154, 1171, 1188, 1208, 1229, 1246, 1259, 1276, 1296, 1313, 1337, 1364, 1395, 1428, 1462, 1496, 1530, 1564, 1598, 1632, 1666, 1700, 1742];
const dtkXauFit = [5.135, 5.155, 5.169, 5.186, 5.2, 5.209, 5.215, 5.214, 5.209, 5.192, 5.164, 5.155, 5.161, 5.192, 5.215, 5.215, 5.186, 5.155, 5.12, 5.07, 5.005, 4.948, 4.883, 4.822, 4.768, 4.726, 4.693, 4.669, 4.646];
const dtkXauHi = [5.229, 5.23, 5.229, 5.233, 5.235, 5.237, 5.24, 5.236, 5.229, 5.212, 5.184, 5.175, 5.181, 5.213, 5.237, 5.239, 5.214, 5.19, 5.162, 5.125, 5.068, 5.015, 4.951, 4.89, 4.836, 4.792, 4.757, 4.739, 4.74];
const dtkXauLo = [5.041, 5.08, 5.109, 5.139, 5.165, 5.181, 5.19, 5.192, 5.189, 5.172, 5.144, 5.135, 5.141, 5.171, 5.193, 5.191, 5.158, 5.12, 5.078, 5.015, 4.942, 4.881, 4.815, 4.754, 4.7, 4.66, 4.629, 4.599, 4.552];

const imhXauX = [1051, 1075, 1102, 1136, 1176, 1203, 1224, 1244, 1264, 1285, 1302, 1318, 1339, 1359, 1379, 1396, 1420, 1454, 1500, 1555, 1600, 1656, 1700, 1742];
const imhXauFit = [3.188, 3.221, 3.26, 3.293, 3.307, 3.305, 3.293, 3.305, 3.338, 3.366, 3.372, 3.363, 3.327, 3.288, 3.249, 3.225, 3.177, 3.121, 3.054, 2.998, 2.976, 2.959, 2.953, 2.962];
const imhXauHi = [3.249, 3.263, 3.29, 3.313, 3.324, 3.322, 3.31, 3.322, 3.355, 3.384, 3.39, 3.382, 3.347, 3.311, 3.276, 3.255, 3.211, 3.156, 3.09, 3.038, 3.014, 2.995, 3.003, 3.034];
const imhXauLo = [3.127, 3.179, 3.23, 3.273, 3.29, 3.288, 3.276, 3.288, 3.321, 3.348, 3.354, 3.344, 3.307, 3.265, 3.222, 3.195, 3.143, 3.086, 3.018, 2.958, 2.938, 2.923, 2.903, 2.89];

// ---- drawing ----
const FONT = '"Liberation Sans", Arial, Helvetica, sans-serif';
Chart.defaults.font.family = FONT;

const panelTitle = {
  id: 'panelTitle',
  afterDraw(chart, args, opts) {
    const { ctx, chartArea } = chart;
    ctx.save();
    ctx.font = '12px ' + FONT;
    ctx.fillStyle = '#000000';
    ctx.textAlign = 'left';
    ctx.textBaseline = 'alphabetic';
    ctx.fillText(opts.text, chartArea.left, chartArea.top - 8);
    ctx.restore();
  }
};

function pairs(list) { return list.map(p => ({ x: p[0], y: p[1] })); }
function zip(xs, ys) { return xs.map((x, i) => ({ x: x, y: ys[i] })); }

function axis(a) {
  const values = a.major.concat(a.minor).sort((p, q) => p - q);
  return {
    type: 'linear',
    position: a.horizontal ? 'bottom' : 'left',
    min: a.min,
    max: a.max,
    afterBuildTicks: s => { s.ticks = values.map(v => ({ value: v })); },
    afterFit: s => { if (a.horizontal) { s.height = a.size; } else { s.width = a.size; } },
    grid: { color: '#EBEBEB', lineWidth: 1, drawTicks: false },
    border: { display: false },
    ticks: {
      autoSkip: false, maxRotation: 0, minRotation: 0,
      padding: a.horizontal ? 4 : 4.5,
      color: '#4D4D4D',
      font: { size: 8 },
      callback: v => { const i = a.major.indexOf(v); return i >= 0 ? a.labels[i] : ''; }
    },
    title: {
      display: true, text: a.title, color: '#000000', font: { size: 10 },
      padding: a.horizontal ? { top: 0, bottom: 1.8 } : { top: a.titlePad, bottom: 0 }
    }
  };
}

function panel(id, o) {
  new Chart(document.getElementById(id), {
    type: 'scatter',
    data: {
      datasets: [
        { data: pairs(o.points), pointRadius: 2.5, pointBackgroundColor: '#000000', backgroundColor: '#000000', pointBorderWidth: 0, borderWidth: 0, order: 3 },
        { type: 'line', data: zip(o.sx, o.hi), borderColor: 'rgba(0,0,0,0)', borderWidth: 0, pointRadius: 0, fill: '+1', backgroundColor: 'rgba(153,153,153,0.4)', cubicInterpolationMode: 'monotone', order: 2 },
        { type: 'line', data: zip(o.sx, o.lo), borderColor: 'rgba(0,0,0,0)', borderWidth: 0, pointRadius: 0, fill: false, cubicInterpolationMode: 'monotone', order: 2 },
        { type: 'line', data: zip(o.sx, o.fit), borderColor: '#3366FF', borderWidth: 2, pointRadius: 0, fill: false, cubicInterpolationMode: 'monotone', order: 1 }
      ]
    },
    options: {
      responsive: false,
      animation: false,
      events: [],
      layout: { padding: o.pad },
      plugins: { legend: { display: false }, tooltip: { enabled: false }, panelTitle: { text: o.title } },
      scales: { x: axis(o.x), y: axis(o.y) }
    },
    plugins: [panelTitle]
  });
}

const dtkAxis = { major: dtkMajor, minor: dtkMinor, labels: dtkLabels, min: 4.346, max: 5.58, title: 'DTK' };
const imhAxis = { major: imhMajor, minor: imhMinor, labels: imhLabels, min: 2.455, max: 3.66, title: 'IMH' };

panel('p1', {
  title: 'DTK', points: dtkBrent, sx: dtkBrentX, fit: dtkBrentFit, hi: dtkBrentHi, lo: dtkBrentLo,
  pad: { left: 0, top: 24, right: 3.3, bottom: 0 },
  x: { major: brentMajor, minor: brentMinor, labels: brentLabels, min: 24.0, max: 123.3, title: 'BRENT', horizontal: true, size: 28 },
  y: Object.assign({}, dtkAxis, { size: 39, titlePad: 7 })
});
panel('p2', {
  title: 'IMH', points: imhBrent, sx: imhBrentX, fit: imhBrentFit, hi: imhBrentHi, lo: imhBrentLo,
  pad: { left: 0, top: 24, right: 0, bottom: 0 },
  x: { major: brentMajor, minor: brentMinor, labels: brentLabels, min: 24.0, max: 120.8, title: 'BRENT', horizontal: true, size: 28 },
  y: Object.assign({}, imhAxis, { size: 36.7, titlePad: 4.7 })
});
panel('p3', {
  title: 'DTK', points: dtkXau, sx: dtkXauX, fit: dtkXauFit, hi: dtkXauHi, lo: dtkXauLo,
  pad: { left: 0, top: 24.3, right: 3.3, bottom: 0 },
  x: { major: xauMajor, minor: xauMinor, labels: xauLabels, min: 1016.5, max: 1776.6, title: 'XAUUSD', horizontal: true, size: 27.7 },
  y: Object.assign({}, dtkAxis, { size: 39, titlePad: 7 })
});
panel('p4', {
  title: 'IMH', points: imhXau, sx: imhXauX, fit: imhXauFit, hi: imhXauHi, lo: imhXauLo,
  pad: { left: 0, top: 24.3, right: 0, bottom: 0 },
  x: { major: xauMajor, minor: xauMinor, labels: xauLabels, min: 1016.2, max: 1757.4, title: 'XAUUSD', horizontal: true, size: 27.7 },
  y: Object.assign({}, imhAxis, { size: 36.7, titlePad: 4.7 })
});
</script>
</body>
</html>
